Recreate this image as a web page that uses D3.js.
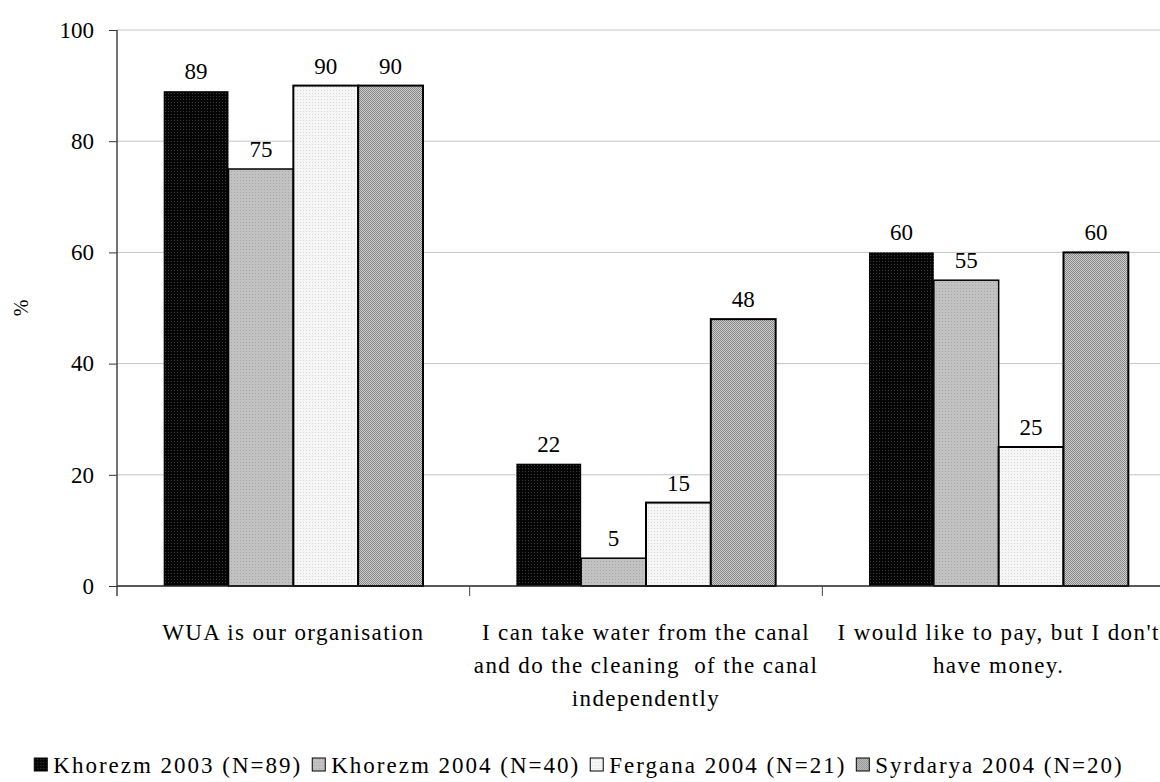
<!DOCTYPE html>
<html>
<head>
<meta charset="utf-8">
<script src="https://d3js.org/d3.v7.min.js"></script>
<style>
  body { margin: 0; background: #fff; }
  text { font-family: "Liberation Serif", "Times New Roman", serif; fill: #000; }
</style>
</head>
<body>
<svg width="1160" height="782"></svg>
<script>
// data
categories = [
    ["WUA is our organisation"],
    ["I can take water from the canal", "and do the cleaning  of the canal", "independently"],
    ["I would like to pay, but I don't", "have money."]
]
seriesNames = ["Khorezm 2003 (N=89)", "Khorezm 2004 (N=40)", "Fergana 2004 (N=21)", "Syrdarya 2004 (N=20)"]
khorezm2003 = [89, 22, 60]
khorezm2004 = [75, 5, 55]
fergana2004 = [90, 15, 25]
syrdarya2004 = [90, 48, 60]
yTicks = [0, 20, 40, 60, 80, 100]

allSeries = [khorezm2003, khorezm2004, fergana2004, syrdarya2004]

svg = d3.select("svg")

// fill patterns, one for each series
let defs = svg.append("defs")
function dotPattern(id, base, dot, size) {
    let p = defs.append("pattern")
        .attr("id", id)
        .attr("width", size)
        .attr("height", size)
        .attr("patternUnits", "userSpaceOnUse");
    p.append("rect").attr("width", size).attr("height", size).attr("fill", base);
    p.append("rect").attr("width", 1).attr("height", 1).attr("fill", dot);
}
dotPattern("p0", "#050505", "#3c3c3c", 3)
dotPattern("p1", "#c2c2c2", "#a6a6a6", 3)
dotPattern("p2", "#f6f6f6", "#d6d6d6", 3)
let chk = defs.append("pattern")
    .attr("id", "p3")
    .attr("width", 2)
    .attr("height", 2)
    .attr("patternUnits", "userSpaceOnUse");
chk.append("rect").attr("width", 2).attr("height", 2).attr("fill", "#cccccc");
chk.append("rect").attr("width", 1).attr("height", 1).attr("fill", "#888888");
chk.append("rect").attr("x", 1).attr("y", 1).attr("width", 1).attr("height", 1).attr("fill", "#888888");

const fills = ["url(#p0)", "url(#p1)", "url(#p2)", "url(#p3)"]

const plotLeft = 117, plotRight = 1175, plotTop = 30, plotBottom = 586
const fontSize = "23px"

let xScale = d3.scaleBand()
    .domain(d3.range(categories.length))
    .range([plotLeft, plotRight])
    .padding(0);

let xInner = d3.scaleBand()
    .domain(d3.range(seriesNames.length))
    .range([0, xScale.bandwidth()])
    .paddingInner(0)
    .paddingOuter(0.72);

let yScale = d3.scaleLinear()
    .domain([0, 100])
    .range([plotBottom, plotTop]);

// grid lines
svg.append("g")
    .selectAll("line")
    .data(yTicks.filter(d => d > 0))
    .enter()
    .append("line")
    .attr("x1", plotLeft)
    .attr("x2", plotRight)
    .attr("y1", d => yScale(d))
    .attr("y2", d => yScale(d))
    .attr("stroke", "#c4c4c4")
    .attr("stroke-width", 1);

// bars
allSeries.forEach((values, s) => {
    svg.append("g")
        .selectAll("rect")
        .data(values)
        .enter()
        .append("rect")
        .attr("x", (d, i) => xScale(i) + xInner(s))
        .attr("y", d => yScale(d))
        .attr("width", xInner.bandwidth())
        .attr("height", d => yScale(0) - yScale(d))
        .attr("fill", fills[s])
        .attr("stroke", s == 0 ? "none" : "#000")
        .attr("stroke-width", s == 1 ? 1.5 : 2);

    svg.append("g")
        .selectAll("text")
        .data(values)
        .enter()
        .append("text")
        .attr("x", (d, i) => xScale(i) + xInner(s) + xInner.bandwidth() / 2)
        .attr("y", d => yScale(d) - 12)
        .attr("text-anchor", "middle")
        .style("font-size", fontSize)
        .text(d => d);
});

// y axis
const yAxis = d3.axisLeft(yScale).tickValues(yTicks).tickSize(8).tickPadding(15)
let ya = svg.append("g")
    .attr("transform", `translate(${plotLeft},0)`)
    .call(yAxis);
ya.select(".domain").remove();
ya.selectAll(".tick line").attr("stroke", "#333");
ya.selectAll(".tick text")
    .style("font-size", fontSize)
    .attr("fill", "#000");
svg.append("line")
    .attr("x1", plotLeft).attr("x2", plotLeft)
    .attr("y1", plotTop).attr("y2", plotBottom + 10)
    .attr("stroke", "#444").attr("stroke-width", 1.5);

// x axis baseline and ticks between groups
svg.append("line")
    .attr("x1", plotLeft).attr("x2", plotRight)
    .attr("y1", plotBottom).attr("y2", plotBottom)
    .attr("stroke", "#222").attr("stroke-width", 1.5);
svg.append("g")
    .selectAll("line")
    .data(d3.range(1, categories.length))
    .enter()
    .append("line")
    .attr("x1", d => xScale(d)).attr("x2", d => xScale(d))
    .attr("y1", plotBottom).attr("y2", plotBottom + 10)
    .attr("stroke", "#444").attr("stroke-width", 1);

// category labels
categories.forEach((lines, i) => {
    svg.append("text")
        .attr("text-anchor", "middle")
        .style("font-size", fontSize)
        .style("letter-spacing", "1.4px")
        .style("white-space", "pre")
        .selectAll("tspan")
        .data(lines)
        .enter()
        .append("tspan")
        .attr("x", xScale(i) + xScale.bandwidth() / 2)
        .attr("y", (d, j) => 640 + j * 33)
        .text(d => d);
});

// y title
svg.append("text")
    .attr("transform", "rotate(-90)")
    .attr("x", -308)
    .attr("y", 28)
    .attr("text-anchor", "middle")
    .style("font-size", "20px")
    .text("%");

// legend, laid out left to right and centred under the chart
let legend = svg.append("g")
let lx = 0
seriesNames.forEach((name, s) => {
    legend.append("rect")
        .attr("x", lx)
        .attr("y", 758)
        .attr("width", 13)
        .attr("height", 13)
        .attr("fill", fills[s])
        .attr("stroke", "#000")
        .attr("stroke-width", 1);
    let t = legend.append("text")
        .attr("x", lx + 19)
        .attr("y", 773)
        .style("font-size", fontSize)
        .style("letter-spacing", "2px")
        .text(name);
    lx += 19 + t.node().getComputedTextLength() + 10;
});
legend.attr("transform", `translate(${579 - (lx - 10) / 2},0)`);
</script>
</body>
</html>
